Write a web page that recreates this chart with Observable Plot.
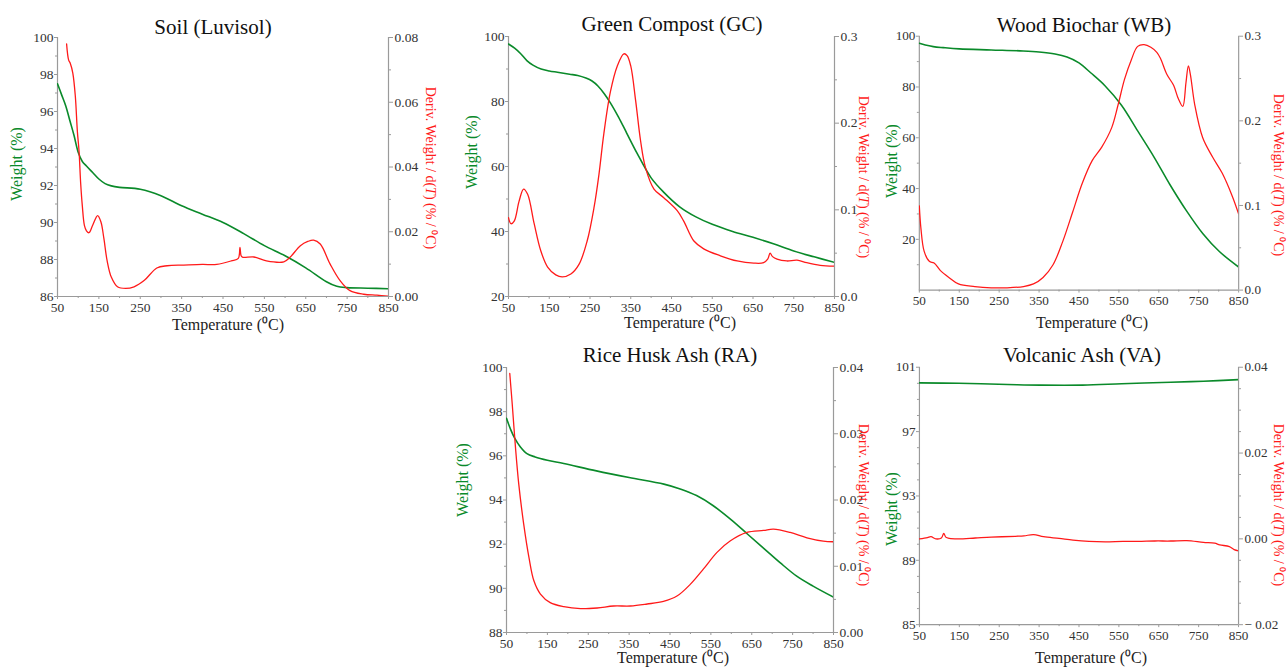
<!DOCTYPE html>
<html><head><meta charset="utf-8">
<script src="https://cdn.jsdelivr.net/npm/d3@7"></script>
<script src="https://cdn.jsdelivr.net/npm/@observablehq/plot@0.6"></script>
<style>
body{margin:0;background:#fff;}
#root{position:relative;width:1287px;height:667px;overflow:hidden;font-family:"Liberation Serif",serif;background:#fff;}
#root svg, #root svg g, #root svg text{font-family:"Liberation Serif",serif !important;font-size:13.5px !important;}
.pl{position:absolute;}
.lbl{position:absolute;white-space:nowrap;transform:translate(-50%,-50%);line-height:1;font-family:"Liberation Serif",serif;}
.title{font-size:21px;color:#111;}
.xt{font-size:16px;color:#222;}
.wl{font-size:16px;color:#0a8a2a;transform:translate(-50%,-50%) rotate(-90deg);}
.dl{font-size:14px;color:#ff1a1a;transform:translate(-50%,-50%) rotate(90deg);}
</style></head><body><div id="root"></div><script>
// ---- shared axis values ----
const tempTicks = [50,150,250,350,450,550,650,750,850];
const tempMinor = [100,200,300,400,500,600,700,800];

// ---- Soil (Luvisol) ----
const soilWT = [50,60,70,80,90,100,110,120,135,150,165,180,200,250,300,350,400,450,500,550,600,650,700,725,750,800,850];
const soilW  = [97.5,96.9,96.3,95.5,94.7,93.8,93.3,93.05,92.7,92.35,92.1,91.98,91.9,91.8,91.45,90.9,90.45,90.0,89.4,88.75,88.2,87.55,86.8,86.55,86.48,86.45,86.42];
const soilDT = [72,77,81,87,93,98,102,106,110,115,120,126,135,147,155,162,170,180,195,215,235,260,290,315,355,400,435,470,487,491,494,498,525,555,597,612,637,655,669,685,709,733,757,790,822,850];
const soilD  = [0.078,0.073,0.072,0.069,0.062,0.051,0.045,0.035,0.028,0.022,0.0203,0.0197,0.022,0.025,0.023,0.018,0.011,0.006,0.003,0.0025,0.003,0.005,0.0088,0.0095,0.0097,0.0099,0.0099,0.011,0.0118,0.0152,0.0125,0.0121,0.0122,0.011,0.0107,0.0121,0.0157,0.0170,0.0174,0.0162,0.010,0.0049,0.0018,0.0007,0.0004,0.0001];
const soilWTicks = [86,88,90,92,94,96,98,100];
const soilWMinor = [87,89,91,93,95,97,99];
const soilDTicks = [0,0.02,0.04,0.06,0.08];
const soilDMinor = [0.01,0.03,0.05,0.07];

// ---- Green Compost (GC) ----
const gcWT = [50,65,80,95,110,130,150,170,200,220,240,255,270,285,300,320,340,365,400,430,470,510,550,600,650,700,750,800,850];
const gcW  = [97.7,96.4,94.7,92.6,91.2,90.0,89.4,89.0,88.4,88.0,87.2,86.3,84.7,82.4,79.6,75.2,70.3,64.2,56.5,52.2,47.6,44.5,42.2,40.0,38.2,36.2,34.0,32.2,30.5];
const gcDT = [50,56,64,76,87,97,113,129,146,166,182,203,223,243,260,272,284,300,317,333,341,350,362,374,386,407,431,464,480,505,529,570,611,652,676,686,692,698,709,733,758,782,815,850];
const gcD  = [0.091,0.084,0.087,0.110,0.124,0.118,0.084,0.053,0.034,0.025,0.0227,0.026,0.037,0.064,0.103,0.141,0.188,0.236,0.266,0.280,0.278,0.266,0.226,0.180,0.149,0.124,0.114,0.099,0.087,0.064,0.055,0.047,0.041,0.0385,0.039,0.043,0.050,0.046,0.043,0.041,0.042,0.039,0.036,0.035];
const gcWTicks = [20,40,60,80,100];
const gcWMinor = [30,50,70,90];
const gcDTicks = [0,0.1,0.2,0.3];
const gcDMinor = [0.05,0.15,0.25];

// ---- Wood Biochar (WB) ----
const wbWT = [50,65,85,110,150,230,310,350,390,420,450,480,515,556,597,638,678,719,760,801,850];
const wbW  = [97.2,96.5,95.9,95.5,95.0,94.6,94.2,93.8,93.0,91.8,89.5,85.5,80.5,72.9,62.7,52.4,41.5,31.3,22.3,15.3,9.1];
const wbDT = [50,54,62,75,87,103,124,148,189,230,270,311,336,360,385,409,434,458,483,507,532,548,564,581,597,613,630,645,654,670,687,699,710,718,724,729,740,760,785,809,834,850];
const wbD  = [0.0995,0.073,0.046,0.034,0.032,0.023,0.015,0.0073,0.0042,0.0027,0.0027,0.0042,0.0073,0.015,0.030,0.057,0.092,0.126,0.153,0.169,0.192,0.219,0.249,0.272,0.288,0.290,0.287,0.281,0.274,0.255,0.242,0.226,0.217,0.245,0.265,0.255,0.219,0.180,0.157,0.138,0.111,0.090];
const wbWTicks = [20,40,60,80,100];
const wbWMinor = [10,30,50,70,90];
const wbDTicks = [0,0.1,0.2,0.3];
const wbDMinor = [0.05,0.15,0.25];

// ---- Rice Husk Ash (RA) ----
const raWT = [50,60,70,84,100,120,150,190,270,350,435,475,515,555,600,640,680,720,760,800,850];
const raW  = [97.7,97.2,96.8,96.4,96.1,95.95,95.8,95.65,95.32,95.02,94.72,94.5,94.2,93.75,93.1,92.45,91.8,91.15,90.55,90.1,89.6];
const raDT = [58,64,72,80,92,105,117,133,157,190,231,272,312,353,394,434,467,500,532,565,597,638,679,703,744,785,825,850];
const raD  = [0.0391,0.0345,0.0279,0.0224,0.0164,0.0113,0.0078,0.0058,0.0045,0.0039,0.0036,0.0037,0.0040,0.0040,0.0043,0.0047,0.0055,0.0073,0.0096,0.0121,0.0138,0.0151,0.0154,0.0156,0.0151,0.0143,0.0138,0.0137];
const raWTicks = [88,90,92,94,96,98,100];
const raWMinor = [89,91,93,95,97,99];
const raDTicks = [0,0.01,0.02,0.03,0.04];
const raDMinor = [0.005,0.015,0.025,0.035];

// ---- Volcanic Ash (VA) ----
const vaWT = [50,148,271,353,459,557,680,762,850];
const vaW  = [100.03,100.0,99.93,99.89,99.89,99.97,100.07,100.13,100.23];
const vaDT = [50,70,79,91,105,111,116,125,148,190,230,290,312,336,361,400,435,475,516,560,598,640,680,720,762,790,803,827,839,850];
const vaD  = [0,0.0003,0.0005,0.0,0.0002,0.0013,0.0004,0.0001,0.0,0.0002,0.0004,0.0006,0.0007,0.001,0.0005,0.0001,-0.0003,-0.0006,-0.0007,-0.0006,-0.0006,-0.0005,-0.0005,-0.0004,-0.0008,-0.0010,-0.0014,-0.0018,-0.0025,-0.0028];
const vaWTicks = [85,89,93,97,101];
const vaWMinor = [86,87,88,90,91,92,94,95,96,98,99,100];
const vaDTicks = [-0.02,0,0.02,0.04];
const vaDMinor = [-0.015,-0.01,-0.005,0.005,0.01,0.015,0.025,0.03,0.035];

const titles = ["Soil (Luvisol)","Green Compost (GC)","Wood Biochar (WB)","Rice Husk Ash (RA)","Volcanic Ash (VA)"];
const xLabel = "Temperature (⁰C)";
const wLabel = "Weight (%)";
const dLabelHTML = "Deriv. Weight / d(<i>T</i>) (% / ⁰C)";

const GREEN = "#0a8a2a", RED = "#ff1a1a", AXIS = "#9a9a9a", TXT = "#333";
const FONT = "'Liberation Serif', serif";
const FS = 13.5;
const f2 = d3.format(".2f"), f1 = d3.format(".1f");
const vaFmt = d => d < 0 ? "− " + f2(-d) : f2(d);

const panels = [
  {title: titles[0], L:57, R:388, T:37, B:296, wT:soilWT, w:soilW, dT:soilDT, d:soilD, wDom:[86,100], dDom:[0,0.08], wTicks:soilWTicks, wMinor:soilWMinor, dTicks:soilDTicks, dMinor:soilDMinor, dFmt:f2,
   tPos:[213,27], xPos:[228,325], wPos:[17,164], dPos:[430,168]},
  {title: titles[1], L:508, R:834, T:36, B:296, wT:gcWT, w:gcW, dT:gcDT, d:gcD, wDom:[20,100], dDom:[0,0.3], wTicks:gcWTicks, wMinor:gcWMinor, dTicks:gcDTicks, dMinor:gcDMinor, dFmt:f1,
   tPos:[672,24], xPos:[680,323], wPos:[472,152], dPos:[863,177]},
  {title: titles[2], L:920, R:1247, T:36, B:296, wT:wbWT, w:wbW, dT:wbDT, d:wbD, wDom:[0,100], dDom:[0,0.3], wTicks:wbWTicks, wMinor:wbWMinor, dTicks:wbDTicks, dMinor:wbDMinor, dFmt:f1,
   tPos:[1084,25], xPos:[1092,323], wPos:[892,161], dPos:[1278,175]},
  {title: titles[3], L:506, R:833, T:367, B:632, wT:raWT, w:raW, dT:raDT, d:raD, wDom:[88,100], dDom:[0,0.04], wTicks:raWTicks, wMinor:raWMinor, dTicks:raDTicks, dMinor:raDMinor, dFmt:f2,
   tPos:[670,355], xPos:[673,658], wPos:[463,480], dPos:[863,505]},
  {title: titles[4], L:920, R:1246, T:367, B:630, wT:vaWT, w:vaW, dT:vaDT, d:vaD, wDom:[85,101], dDom:[-0.02,0.04], wTicks:vaWTicks, wMinor:vaWMinor, dTicks:vaDTicks, dMinor:vaDMinor, dFmt:vaFmt,
   tPos:[1082,355], xPos:[1091,658], wPos:[892,509], dPos:[1278,505]}
];

const root = document.getElementById("root");
const ml = 50, mr = 50, mt = 12, mb = 30;
const none = () => "";

function addLabel(cls, pos, html) {
  const el = document.createElement("div");
  el.className = "lbl " + cls;
  el.style.left = pos[0] + "px";
  el.style.top = pos[1] + "px";
  el.innerHTML = html;
  root.appendChild(el);
}

for (const p of panels) {
  const width = p.R - p.L + ml + mr, height = p.B - p.T + mt + mb;
  const common = {width, height, marginLeft: ml, marginRight: mr, marginTop: mt, marginBottom: mb,
    style: {background: "transparent", overflow: "visible", fontFamily: FONT, fontSize: FS + "px", color: TXT}};
  const txt = {fontFamily: FONT, fontSize: FS};
  const wData = p.wT.map((t, i) => ({t, v: p.w[i]}));
  const dData = p.dT.map((t, i) => ({t, v: p.d[i]}));

  const p1 = Plot.plot({...common,
    x: {domain: [50, 850]},
    y: {domain: p.wDom},
    marks: [
      Plot.ruleY([p.wDom[0]], {stroke: AXIS, strokeWidth: 1.2}),
      Plot.ruleX([tempTicks[0]], {stroke: AXIS, strokeWidth: 1.2}),
      Plot.axisX({...txt, ticks: tempTicks, tickFormat: d => String(d), tickSize: 3, tickPadding: 3, label: null, stroke: AXIS, fill: TXT}),
      Plot.axisX({ticks: tempMinor, tickFormat: none, tickSize: 2, label: null, stroke: AXIS}),
      Plot.axisY({...txt, ticks: p.wTicks, tickFormat: d => String(d), tickSize: 3, tickPadding: 1, label: null, stroke: AXIS, fill: TXT}),
      Plot.axisY({ticks: p.wMinor, tickFormat: none, tickSize: 2, label: null, stroke: AXIS}),
      Plot.line(wData, {x: "t", y: "v", stroke: GREEN, strokeWidth: 1.6, curve: "catmull-rom", clip: true})
    ]});
  const p2 = Plot.plot({...common,
    x: {domain: [50, 850], axis: null},
    y: {domain: p.dDom},
    marks: [
      Plot.ruleX([tempTicks[tempTicks.length - 1]], {stroke: AXIS, strokeWidth: 1.2}),
      Plot.axisY({...txt, anchor: "right", ticks: p.dTicks, tickFormat: p.dFmt, tickSize: 4, tickPadding: 2, label: null, stroke: AXIS, fill: TXT}),
      Plot.axisY({anchor: "right", ticks: p.dMinor, tickFormat: none, tickSize: 2, label: null, stroke: AXIS}),
      Plot.line(dData, {x: "t", y: "v", stroke: RED, strokeWidth: 1.3, curve: "catmull-rom", clip: true})
    ]});
  for (const svg of [p1, p2]) {
    const wrap = document.createElement("div");
    wrap.className = "pl";
    wrap.style.left = (p.L - ml) + "px";
    wrap.style.top = (p.T - mt) + "px";
    wrap.appendChild(svg);
    root.appendChild(wrap);
  }
  addLabel("title", p.tPos, p.title);
  addLabel("xt", p.xPos, xLabel);
  addLabel("wl", p.wPos, wLabel);
  addLabel("dl", p.dPos, dLabelHTML);
}
</script></body></html>
